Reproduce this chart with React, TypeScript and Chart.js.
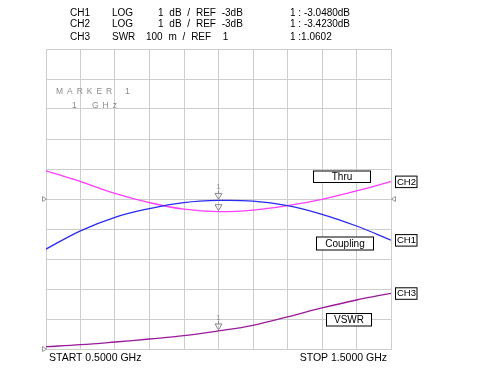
import React, { useEffect, useRef } from "react";
import { Chart, registerables } from "chart.js";

Chart.register(...registerables);

// Frequency points (GHz)
const freqs = [0.5, 0.6, 0.7, 0.8, 0.9, 1.0, 1.1, 1.2, 1.3, 1.4, 1.5];
// CH1 Coupling (dB)
const ch1Coupling = [-4.67, -4.06, -3.61, -3.32, -3.12, -3.048, -3.07, -3.22, -3.51, -3.9, -4.37];
// CH2 Thru (dB)
const ch2Thru = [-2.06, -2.42, -2.81, -3.12, -3.34, -3.423, -3.37, -3.22, -3.01, -2.73, -2.42];
// CH3 VSWR
const ch3Vswr = [1.0077, 1.0143, 1.0233, 1.0333, 1.0443, 1.0602, 1.079, 1.1067, 1.1367, 1.1633, 1.1857];

const markerFreq = 1.0;
const channelNames = ["CH1", "CH2", "CH3"];
const traceNames = ["Coupling", "Thru", "VSWR"];

const headerRows = [
  ["CH1", "LOG", "1 dB / REF -3dB", "1 : -3.0480dB"],
  ["CH2", "LOG", "1 dB / REF -3dB", "1 : -3.4230dB"],
  ["CH3", "SWR", "100 m / REF  1", "1 :1.0602"],
];
const startLabel = "START 0.5000 GHz";
const stopLabel = "STOP 1.5000 GHz";

const FONT = '"Liberation Sans", Arial, sans-serif';

export default function App() {
  const ref = useRef<HTMLCanvasElement>(null);

  useEffect(() => {
    if (!ref.current) return;

    const overlay = {
      id: "overlay",
      afterDraw(chart: any) {
        const ctx = chart.ctx;
        const ca = chart.chartArea;
        const xs = chart.scales.x;
        ctx.save();

        // Header text
        ctx.fillStyle = "#000";
        ctx.font = `10px ${FONT}`;
        ctx.textBaseline = "middle";
        ctx.textAlign = "left";
        const rowY = [13.5, 24.5, 37];
        const col3 = [158, 158, 146];
        headerRows.forEach((r, i) => {
          ctx.wordSpacing = "0px";
          ctx.fillText(r[0], 70, rowY[i]);
          ctx.fillText(r[1], 112, rowY[i]);
          ctx.wordSpacing = "3px";
          ctx.fillText(r[2], col3[i], rowY[i]);
          ctx.wordSpacing = "0px";
          ctx.fillText(r[3], 290, rowY[i]);
        });

        // Bottom labels
        ctx.font = `10.5px ${FONT}`;
        ctx.fillText(startLabel, ca.left + 3, ca.bottom + 9.5);
        ctx.textAlign = "right";
        ctx.fillText(stopLabel, ca.right - 4, ca.bottom + 9.5);

        // Marker info text
        ctx.textAlign = "left";
        ctx.fillStyle = "#8a8a8a";
        ctx.font = `8.5px ${FONT}`;
        ctx.letterSpacing = "0.8px";
        ctx.fillText("M A R K E R", ca.left + 10, ca.top + 43);
        ctx.fillText("1", ca.left + 79, ca.top + 43);
        ctx.fillText("1", ca.left + 26, ca.top + 57);
        ctx.fillText("G H z", ca.left + 46, ca.top + 57);
        ctx.letterSpacing = "0px";

        // Reference position triangles
        ctx.strokeStyle = "#999";
        ctx.lineWidth = 1;
        const yRef = chart.scales.y.getPixelForValue(-3);
        const y3Ref = chart.scales.y3.getPixelForValue(1);
        const refTri = (x: number, y: number, dir: number) => {
          ctx.beginPath();
          ctx.moveTo(x, y - 2.5);
          ctx.lineTo(x + 4 * dir, y);
          ctx.lineTo(x, y + 2.5);
          ctx.closePath();
          ctx.stroke();
        };
        refTri(ca.left - 3.5, yRef, 1);
        refTri(ca.right + 4.5, yRef, -1);
        refTri(ca.left - 3.5, y3Ref, 1);

        // Markers
        const mx = xs.getPixelForValue(markerFreq);
        const idx = freqs.indexOf(markerFreq);
        const mVals = [ch1Coupling[idx], ch2Thru[idx], ch3Vswr[idx]];
        const axes = ["y", "y", "y3"];
        ctx.strokeStyle = "#888";
        ctx.fillStyle = "#888";
        mVals.forEach((v, i) => {
          const py = chart.scales[axes[i]].getPixelForValue(v);
          const tip = py - 1;
          ctx.beginPath();
          ctx.moveTo(mx - 3.5, tip - 6);
          ctx.lineTo(mx + 3.5, tip - 6);
          ctx.lineTo(mx, tip);
          ctx.closePath();
          ctx.stroke();
          if (i !== 1) {
            ctx.beginPath();
            ctx.moveTo(mx, tip - 6);
            ctx.lineTo(mx, tip - 9);
            ctx.stroke();
            ctx.font = `7px ${FONT}`;
            ctx.textAlign = "center";
            ctx.fillText("1", mx, tip - 12);
          }
        });

        // Channel labels at trace ends
        const ends = [ch1Coupling[ch1Coupling.length - 1], ch2Thru[ch2Thru.length - 1], ch3Vswr[ch3Vswr.length - 1]];
        ctx.font = `9.5px ${FONT}`;
        ctx.textAlign = "center";
        ends.forEach((v, i) => {
          const py = chart.scales[axes[i]].getPixelForValue(v);
          const bx = ca.right + 4.5;
          const by = py - 5.5;
          ctx.fillStyle = "#fff";
          ctx.fillRect(bx, by, 21.5, 11.5);
          ctx.strokeStyle = "#000";
          ctx.strokeRect(bx, by, 21.5, 11.5);
          ctx.fillStyle = "#000";
          ctx.fillText(channelNames[i], bx + 11, py + 0.5);
        });

        // Trace name boxes
        const boxes = [
          { x: 316.5, y: 237, w: 57, h: 13 },
          { x: 313.5, y: 171, w: 57, h: 11.5 },
          { x: 326.5, y: 313.5, w: 45, h: 12.5 },
        ];
        ctx.font = `10px ${FONT}`;
        boxes.forEach((b, i) => {
          ctx.fillStyle = "#fff";
          ctx.fillRect(b.x, b.y, b.w, b.h);
          ctx.strokeStyle = "#000";
          ctx.strokeRect(b.x, b.y, b.w, b.h);
          ctx.fillStyle = "#000";
          ctx.fillText(traceNames[i], b.x + b.w / 2, b.y + b.h / 2 + 0.5);
        });

        ctx.restore();
      },
    };

    const chart = new Chart(ref.current, {
      type: "line",
      data: {
        datasets: [
          {
            label: "CH1 Coupling",
            data: freqs.map((f, i) => ({ x: f, y: ch1Coupling[i] })),
            borderColor: "#2a2af0",
            borderWidth: 1.3,
            pointRadius: 0,
            tension: 0.4,
            yAxisID: "y",
          },
          {
            label: "CH2 Thru",
            data: freqs.map((f, i) => ({ x: f, y: ch2Thru[i] })),
            borderColor: "#ff3cff",
            borderWidth: 1.3,
            pointRadius: 0,
            tension: 0.4,
            yAxisID: "y",
          },
          {
            label: "CH3 VSWR",
            data: freqs.map((f, i) => ({ x: f, y: ch3Vswr[i] })),
            borderColor: "#9a1a9a",
            borderWidth: 1.3,
            pointRadius: 0,
            tension: 0.4,
            yAxisID: "y3",
          },
        ],
      },
      options: {
        responsive: false,
        animation: false,
        events: [],
        layout: { padding: { left: 46, top: 49, right: 109, bottom: 34 } },
        plugins: { legend: { display: false }, tooltip: { enabled: false } },
        scales: {
          x: {
            type: "linear",
            min: 0.5,
            max: 1.5,
            ticks: { display: false, stepSize: 0.1 },
            grid: { color: "#cdcdcd", drawTicks: false, lineWidth: 1 },
            border: { color: "#cdcdcd" },
            afterFit: (s: any) => { s.height = 0; },
          },
          y: {
            type: "linear",
            min: -8,
            max: 2,
            ticks: { display: false, stepSize: 1 },
            grid: { color: "#cdcdcd", drawTicks: false, lineWidth: 1 },
            border: { color: "#cdcdcd" },
            afterFit: (s: any) => { s.width = 0; },
          },
          y3: {
            type: "linear",
            min: 1,
            max: 2,
            display: false,
            position: "right",
          },
        },
      },
      plugins: [overlay],
    });
    return () => chart.destroy();
  }, []);

  return (
    <div style={{ position: "fixed", left: 0, top: 0, width: 500, height: 383, background: "#fff" }}>
      <canvas ref={ref} width={500} height={383} />
    </div>
  );
}
